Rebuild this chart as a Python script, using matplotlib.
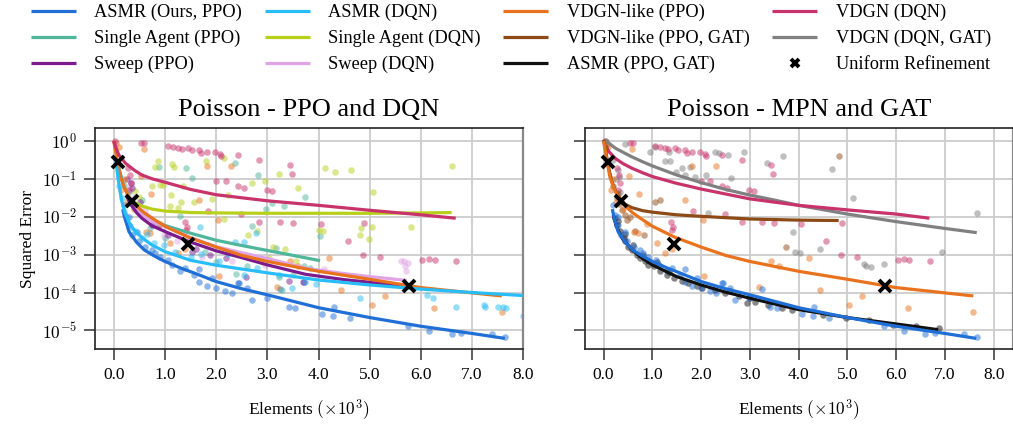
import numpy as np
import matplotlib
matplotlib.use('Agg')
import matplotlib.pyplot as plt
from matplotlib.ticker import FuncFormatter, NullLocator

plt.rcParams['font.family'] = 'serif'
plt.rcParams['font.serif'] = ['Liberation Serif', 'DejaVu Serif']
plt.rcParams['mathtext.fontset'] = 'cm'

# x: elements in thousands, y: log10 of the squared error

# ---- scatter points ----
asmr_ppo_x = [0.2, 0.23, 0.29, 0.36, 0.49, 0.62, 0.75, 0.91, 1.07, 1.14, 1.3, 1.4, 1.56, 1.66, 1.82, 1.92,
              2.0, 2.18, 2.31, 2.44, 2.6, 2.7, 2.99, 3.25, 3.42, 3.55, 4.06, 4.31, 4.29, 4.62, 5.75, 6.16,
              6.6, 6.79, 7.38, 7.65, 0.3, 0.45, 0.8, 1.66, 2.43]
asmr_ppo_y = [-1.69, -1.95, -2.21, -2.48, -2.65, -2.79, -2.87, -3.05, -3.14, -3.27, -3.44, -3.36, -3.53, -3.71,
              -3.84, -3.62, -3.88, -3.95, -4.02, -3.75, -3.88, -4.19, -4.15, -3.9, -4.37, -4.41, -4.57, -4.37,
              -4.63, -4.67, -4.88, -5.01, -5.1, -5.07, -5.09, -5.18, -2.0, -2.4, -2.95, -3.37, -3.75]

asmr_dqn_x = [0.16, 0.2, 0.26, 0.42, 0.55, 0.78, 0.98, 1.2, 1.69, 1.71, 2.05, 2.24, 2.36, 2.54, 2.77, 2.54,
              2.8, 3.22, 3.48, 3.74, 3.95, 4.81, 6.11, 6.23, 6.69, 7.23, 7.26, 7.51, 7.6, 7.67, 8.0,
              0.1, 0.3, 0.65, 1.5]
asmr_dqn_y = [-1.51, -1.86, -2.04, -2.39, -2.57, -2.7, -2.74, -2.92, -2.26, -2.99, -3.16, -2.99, -2.67, -2.67,
              -2.43, -3.53, -3.36, -3.53, -3.88, -3.71, -3.78, -4.15, -4.06, -4.15, -4.39, -4.32, -4.37,
              -4.37, -4.39, -4.41, -4.61, -1.2, -2.3, -2.45, -3.05]

single_ppo_x = [0.88, 1.41, 2.36, 1.53, 2.82, 3.74, 1.3, 0.55, 2.71, 2.97, 3.09, 3.32, 3.17, 3.29, 3.22, 2.39,
                1.79, 0.29, 0.2, 0.42, 4.03, 3.71, 3.84, 2.6, 3.5, 0.7, 1.0, 2.0]
single_ppo_y = [-0.68, -0.72, -0.59, -0.97, -0.91, -1.47, -1.99, -1.56, -2.24, -1.8, -1.64, -1.73, -2.83, -3.93,
                -3.58, -3.51, -2.92, -1.34, -1.16, -1.78, -2.5, -3.31, -3.34, -3.3, -3.55, -2.3, -2.55, -3.2]

single_dqn_x = [0.87, 0.8, 1.14, 1.17, 1.81, 2.15, 0.96, 0.91, 0.74, 1.35, 1.11, 1.32, 1.56, 1.91, 1.09, 1.26,
                2.24, 2.7, 2.95, 3.22, 3.6, 2.15, 2.63, 2.8, 3.12, 3.35, 3.56, 3.03, 0.41, 0.49, 4.13, 4.32,
                4.63, 6.6, 5.07, 5.8, 5.05, 4.83, 4.81, 4.99, 4.0, 4.08]
single_dqn_y = [-0.54, -0.7, -0.62, -0.7, -0.53, -0.46, -1.16, -1.16, -1.2, -1.18, -1.44, -1.6, -1.62, -1.53,
                -1.71, -1.76, -1.42, -1.12, -1.05, -0.88, -1.25, -2.06, -2.48, -2.39, -2.79, -2.85, -3.18,
                -3.09, -1.32, -1.47, -0.72, -0.83, -0.78, -0.67, -1.34, -2.27, -2.26, -2.3, -2.48, -2.59,
                -2.36, -2.37]

sweep_ppo_x = [0.33, 0.36, 0.52, 0.62, 0.88, 1.53, 1.61, 1.89, 2.58, 3.43, 3.69, 3.71, 1.07, 0.75, 0.25, 2.2]
sweep_ppo_y = [-1.12, -1.25, -1.6, -1.95, -2.21, -2.92, -2.85, -3.01, -3.6, -3.69, -3.71, -3.73, -2.48, -2.21,
               -1.0, -3.1]

sweep_dqn_x = [0.29, 0.39, 0.62, 0.98, 1.24, 1.72, 2.31, 2.96, 4.1, 5.62, 5.66, 5.68, 5.7, 5.75]
sweep_dqn_y = [-1.25, -1.47, -1.82, -2.48, -2.65, -3.05, -3.18, -3.27, -3.37, -3.16, -3.18, -3.31, -3.44, -3.22]

vdgn_like_x = [0.05, 0.1, 0.59, 0.53, 1.82, 2.3, 1.66, 2.04, 0.72, 0.7, 0.63, 1.26, 2.05, 3.19, 4.21, 4.44,
               5.04, 7.58, 0.2, 0.15, 0.4, 0.9, 1.4, 1.1, 0.25, 3.6, 5.3, 6.25, 3.44]
vdgn_like_y = [-0.05, -0.15, -0.22, -0.92, -0.65, -0.65, -1.56, -2.08, -1.41, -2.43, -2.41, -2.96, -3.56,
               -3.86, -3.09, -3.94, -4.32, -4.52, -1.0, -1.3, -1.8, -2.2, -2.85, -2.7, -1.6, -3.3, -4.1,
               -4.4, -3.18]

vdgn_like_gat_x = [0.05, 0.27, 0.32, 0.38, 0.43, 0.48, 0.65, 0.82, 1.05, 1.16, 3.74, 4.82, 0.2, 0.55, 0.3]
vdgn_like_gat_y = [-0.1, -1.51, -1.67, -1.82, -1.95, -2.08, -2.37, -2.48, -1.62, -1.56, -2.79, -0.39, -1.2,
                   -2.0, -1.4]

asmr_gat_x = [0.24, 0.27, 0.34, 0.41, 0.44, 0.51, 0.58, 0.68, 0.75, 0.85, 0.92, 1.03, 1.16, 1.3, 1.44, 1.61,
              1.74, 1.91, 2.02, 2.29, 2.5, 2.77, 2.94, 3.11, 3.38, 3.66, 3.86, 4.5, 4.98, 5.45, 5.93, 6.41,
              6.87, 0.3, 0.45, 0.6, 0.8, 1.1, 1.35, 2.6, 3.0]
asmr_gat_y = [-2.04, -2.21, -2.39, -2.57, -2.65, -2.79, -2.87, -3.01, -3.09, -3.18, -3.27, -3.31, -3.44,
              -3.53, -3.62, -3.69, -3.75, -3.84, -3.88, -3.93, -4.02, -4.1, -4.28, -4.24, -4.32, -4.41,
              -4.46, -4.59, -4.66, -4.72, -4.85, -4.89, -4.94, -2.1, -2.45, -2.75, -3.0, -3.2, -3.45,
              -3.95, -4.15]

vdgn_x = [0.02, 0.54, 0.6, 1.06, 1.16, 1.26, 1.33, 1.46, 1.53, 1.66, 1.71, 1.82, 1.98, 2.08, 2.1, 2.42, 2.84,
          3.44, 3.48, 2.0, 2.19, 2.43, 2.54, 2.99, 3.09, 1.84, 1.39, 1.43, 1.41, 2.49, 3.25, 3.5, 2.84, 4.05,
          4.89, 4.57, 4.86, 5.2, 6.03, 6.16, 6.27, 6.69, 0.31, 0.27, 0.33, 0.3]
vdgn_y = [0.0, -0.06, -0.06, -0.13, -0.15, -0.19, -0.21, -0.19, -0.24, -0.24, -0.33, -0.28, -0.3, -0.35,
          -0.39, -0.37, -0.5, -0.63, -0.88, -1.05, -1.07, -1.2, -1.25, -1.29, -1.32, -1.85, -2.13, -2.26,
          -2.35, -1.93, -2.13, -2.17, -2.13, -2.2, -2.16, -2.65, -3.01, -3.05, -3.15, -3.12, -3.15, -3.16,
          -0.9, -0.72, -1.12, -1.3]

vdgn_gat_x = [0.43, 0.96, 1.05, 1.25, 1.35, 1.37, 1.48, 1.61, 1.67, 1.78, 1.88, 2.1, 2.28, 2.36, 2.56, 2.62,
              2.87, 3.35, 3.68, 3.88, 3.93, 4.03, 2.14, 0.29, 0.31, 0.34, 4.69, 5.11, 4.43, 5.33, 5.39, 5.49,
              5.74, 6.94, 7.65, 0.05, 0.2, 0.25, 0.36]
vdgn_gat_y = [-0.08, -0.3, -0.15, -0.53, -0.28, -0.53, -0.81, -0.72, -0.9, -0.68, -0.94, -0.91, -0.28, -0.33,
              -0.37, -0.97, -0.3, -0.59, -0.39, -2.41, -2.92, -2.96, -1.91, -0.76, -0.94, -1.34, -0.75, -1.51,
              -2.86, -3.25, -3.31, -3.32, -3.25, -2.92, -1.9, 0.0, -0.5, -1.0, -1.6]

uniform_x = [0.09, 0.35, 1.45, 5.76]
uniform_y = [-0.55, -1.58, -2.72, -3.84]

# ---- fitted curves ----
fit_asmr_ppo_x = [0.18, 0.22, 0.3, 0.45, 0.6, 0.8, 1.0, 1.3, 1.6, 2.0, 2.5, 3.0, 4.0, 5.0, 6.0, 7.0, 7.64]
fit_asmr_ppo_y = [-1.8, -2.05, -2.4, -2.68, -2.88, -3.04, -3.18, -3.35, -3.5, -3.71, -3.9, -4.06, -4.4, -4.66,
                  -4.89, -5.08, -5.21]

fit_asmr_dqn_x = [0.04, 0.08, 0.12, 0.16, 0.22, 0.3, 0.4, 0.55, 0.75, 1.0, 1.5, 2.0, 3.0, 4.0, 5.0, 6.0, 7.0, 8.0]
fit_asmr_dqn_y = [-0.5, -0.95, -1.3, -1.6, -1.9, -2.15, -2.35, -2.55, -2.75, -2.92, -3.15, -3.28, -3.48, -3.67,
                  -3.8, -3.91, -4.0, -4.08]

fit_single_ppo_x = [0.1, 0.2, 0.34, 0.55, 0.8, 1.0, 1.46, 2.0, 2.5, 3.0, 3.5, 4.03]
fit_single_ppo_y = [-0.7, -1.2, -1.6, -1.9, -2.12, -2.23, -2.42, -2.62, -2.76, -2.89, -3.02, -3.16]

fit_single_dqn_x = [0.3, 0.4, 0.55, 0.75, 1.0, 1.5, 2.0, 3.0, 4.0, 5.0, 6.0, 6.6]
fit_single_dqn_y = [-1.5, -1.62, -1.72, -1.8, -1.85, -1.89, -1.9, -1.91, -1.91, -1.91, -1.9, -1.89]

fit_sweep_ppo_x = [0.25, 0.34, 0.45, 0.55, 0.75, 1.0, 1.46, 2.0, 2.5, 3.0, 3.75, 4.5, 5.0, 5.75]
fit_sweep_ppo_y = [-1.45, -1.69, -1.9, -2.04, -2.24, -2.39, -2.65, -2.9, -3.08, -3.27, -3.52, -3.66, -3.73, -3.85]

fit_sweep_dqn_x = [0.25, 0.34, 0.45, 0.55, 0.75, 1.0, 1.5, 2.0, 2.5, 3.0, 3.75, 4.5, 5.0, 5.72]
fit_sweep_dqn_y = [-1.4, -1.62, -1.82, -1.95, -2.12, -2.26, -2.55, -2.79, -2.95, -3.1, -3.36, -3.5, -3.58, -3.68]

fit_vdgn_like_x = [0.0, 0.04, 0.08, 0.13, 0.2, 0.3, 0.45, 0.6, 0.8, 1.0, 1.46, 2.0, 2.5, 3.0, 4.0, 5.0, 6.0,
                   7.0, 7.58]
fit_vdgn_like_y = [0.0, -0.3, -0.6, -0.95, -1.2, -1.5, -1.72, -1.9, -2.08, -2.25, -2.54, -2.8, -3.02, -3.18,
                   -3.44, -3.65, -3.87, -4.01, -4.09]

fit_vdgn_like_gat_x = [0.0, 0.04, 0.07, 0.12, 0.17, 0.24, 0.31, 0.44, 0.58, 0.8, 1.0, 1.5, 2.0, 3.0, 4.0, 4.82]
fit_vdgn_like_gat_y = [0.03, -0.2, -0.46, -0.8, -1.07, -1.3, -1.47, -1.67, -1.76, -1.84, -1.88, -1.95, -1.99,
                       -2.06, -2.09, -2.1]

fit_asmr_gat_x = [0.2, 0.25, 0.31, 0.4, 0.58, 0.8, 1.0, 1.5, 2.0, 2.5, 3.0, 4.0, 5.0, 6.0, 6.86]
fit_asmr_gat_y = [-1.95, -2.2, -2.39, -2.6, -2.87, -3.1, -3.27, -3.58, -3.8, -3.99, -4.15, -4.45, -4.66, -4.83,
                  -4.98]

fit_vdgn_left_x = [0.0, 0.05, 0.1, 0.23, 0.4, 0.55, 0.75, 1.0, 1.5, 2.0, 3.0, 4.0, 5.0, 6.0, 6.68]
fit_vdgn_left_y = [0.0, -0.2, -0.37, -0.59, -0.77, -0.9, -1.0, -1.09, -1.28, -1.42, -1.58, -1.7, -1.83, -1.95,
                   -2.04]

fit_vdgn_right_x = [0.05, 0.1, 0.24, 0.4, 0.58, 0.8, 1.0, 1.5, 2.0, 3.0, 4.0, 5.0, 6.0, 6.68]
fit_vdgn_right_y = [-0.12, -0.27, -0.46, -0.6, -0.72, -0.84, -0.94, -1.12, -1.27, -1.53, -1.7, -1.82, -1.93,
                    -2.04]

fit_vdgn_gat_x = [0.03, 0.1, 0.24, 0.4, 0.58, 0.8, 1.0, 1.5, 2.0, 2.5, 3.0, 3.5, 4.0, 5.0, 6.0, 7.0, 7.65]
fit_vdgn_gat_y = [0.03, -0.05, -0.19, -0.3, -0.42, -0.55, -0.66, -0.9, -1.1, -1.28, -1.43, -1.56, -1.7, -1.93,
                  -2.13, -2.31, -2.42]

colors = {
    'ASMR (Ours, PPO)': '#1f6fd6',
    'ASMR (DQN)': '#28bdf8',
    'Single Agent (PPO)': '#4fb59b',
    'Single Agent (DQN)': '#b8d01a',
    'Sweep (PPO)': '#7a1b8e',
    'Sweep (DQN)': '#e0a4e4',
    'VDGN-like (PPO)': '#e8721e',
    'VDGN-like (PPO, GAT)': '#8c4a16',
    'ASMR (PPO, GAT)': '#111111',
    'VDGN (DQN)': '#c8336b',
    'VDGN (DQN, GAT)': '#808080',
}

# (label, scatter x, scatter y, fit x, fit y) in drawing order
left_methods = [
    ('ASMR (Ours, PPO)', asmr_ppo_x, asmr_ppo_y, fit_asmr_ppo_x, fit_asmr_ppo_y),
    ('Single Agent (PPO)', single_ppo_x, single_ppo_y, fit_single_ppo_x, fit_single_ppo_y),
    ('Single Agent (DQN)', single_dqn_x, single_dqn_y, fit_single_dqn_x, fit_single_dqn_y),
    ('Sweep (DQN)', sweep_dqn_x, sweep_dqn_y, fit_sweep_dqn_x, fit_sweep_dqn_y),
    ('Sweep (PPO)', sweep_ppo_x, sweep_ppo_y, fit_sweep_ppo_x, fit_sweep_ppo_y),
    ('VDGN-like (PPO)', vdgn_like_x, vdgn_like_y, fit_vdgn_like_x, fit_vdgn_like_y),
    ('ASMR (DQN)', asmr_dqn_x, asmr_dqn_y, fit_asmr_dqn_x, fit_asmr_dqn_y),
    ('VDGN (DQN)', vdgn_x, vdgn_y, fit_vdgn_left_x, fit_vdgn_left_y),
]
right_methods = [
    ('VDGN (DQN, GAT)', vdgn_gat_x, vdgn_gat_y, fit_vdgn_gat_x, fit_vdgn_gat_y),
    ('VDGN (DQN)', vdgn_x, vdgn_y, fit_vdgn_right_x, fit_vdgn_right_y),
    ('VDGN-like (PPO, GAT)', vdgn_like_gat_x, vdgn_like_gat_y, fit_vdgn_like_gat_x, fit_vdgn_like_gat_y),
    ('VDGN-like (PPO)', vdgn_like_x, vdgn_like_y, fit_vdgn_like_x, fit_vdgn_like_y),
    ('ASMR (PPO, GAT)', asmr_gat_x, asmr_gat_y, fit_asmr_gat_x, fit_asmr_gat_y),
    ('ASMR (Ours, PPO)', asmr_ppo_x, asmr_ppo_y, fit_asmr_ppo_x, fit_asmr_ppo_y),
]

fig = plt.figure(figsize=(10.13, 4.25), dpi=100)
ax1 = fig.add_axes([0.0938, 0.1788, 0.4228, 0.52])
ax2 = fig.add_axes([0.5775, 0.1788, 0.4228, 0.52])

handles = {}


def draw_panel(ax, methods, title, xlim):
    for label, sx, sy, fx, fy in methods:
        c = colors[label]
        ax.scatter(sx, 10.0 ** np.array(sy), s=22, color=c, alpha=0.5, lw=0, zorder=2)
    for label, sx, sy, fx, fy in methods:
        c = colors[label]
        ln, = ax.plot(fx, 10.0 ** np.array(fy), color=c, lw=2.3, label=label, zorder=3,
                      solid_capstyle='butt')
        handles[label] = ln
    mk, = ax.plot(uniform_x, 10.0 ** np.array(uniform_y), 'x', color='black', ms=9, mew=2.8,
                  zorder=5, label='Uniform Refinement')
    handles['Uniform Refinement'] = mk

    ax.set_yscale('log')
    ax.set_ylim(10 ** -5.49, 10 ** 0.34)
    ax.set_xlim(*xlim)
    ax.set_yticks(10.0 ** np.arange(-5, 1))
    ax.yaxis.set_minor_locator(NullLocator())
    ax.yaxis.set_major_formatter(FuncFormatter(lambda v, p: r'$10^{%d}$' % int(round(np.log10(v)))))
    ax.set_xticks(np.arange(0, 9))
    ax.xaxis.set_major_formatter(FuncFormatter(lambda v, p: '%.1f' % v))
    ax.grid(True, color='#cccccc', lw=1.3)
    ax.set_axisbelow(True)
    ax.tick_params(length=8, width=1.2, color='#444444', labelsize=12.5, pad=5)
    for s in ax.spines.values():
        s.set_color('#222222')
        s.set_linewidth(1.2)
    ax.spines['right'].set_color('#888888')
    ax.spines['right'].set_linewidth(1.6)
    ax.set_title(title, fontsize=19, pad=9)
    ax.set_xlabel(r'Elements $(\times 10^3)$', fontsize=12.5, labelpad=10)


draw_panel(ax1, left_methods, 'Poisson - PPO and DQN', (-0.365, 8.0))
draw_panel(ax2, right_methods, 'Poisson - MPN and GAT', (-0.38, 8.4))
ax1.set_ylabel('Squared Error', fontsize=12.5)
ax2.tick_params(labelleft=False)

order = ['ASMR (Ours, PPO)', 'Single Agent (PPO)', 'Sweep (PPO)',
         'ASMR (DQN)', 'Single Agent (DQN)', 'Sweep (DQN)',
         'VDGN-like (PPO)', 'VDGN-like (PPO, GAT)', 'ASMR (PPO, GAT)',
         'VDGN (DQN)', 'VDGN (DQN, GAT)', 'Uniform Refinement']
fig.legend([handles[k] for k in order], order, ncol=4, loc='upper left',
           bbox_to_anchor=(0.0141, 1.029), frameon=False, fontsize=13.2,
           handlelength=2.45, handletextpad=1.0, columnspacing=1.25,
           labelspacing=0.47, markerscale=0.7)

fig.savefig('out.png', dpi=100)
